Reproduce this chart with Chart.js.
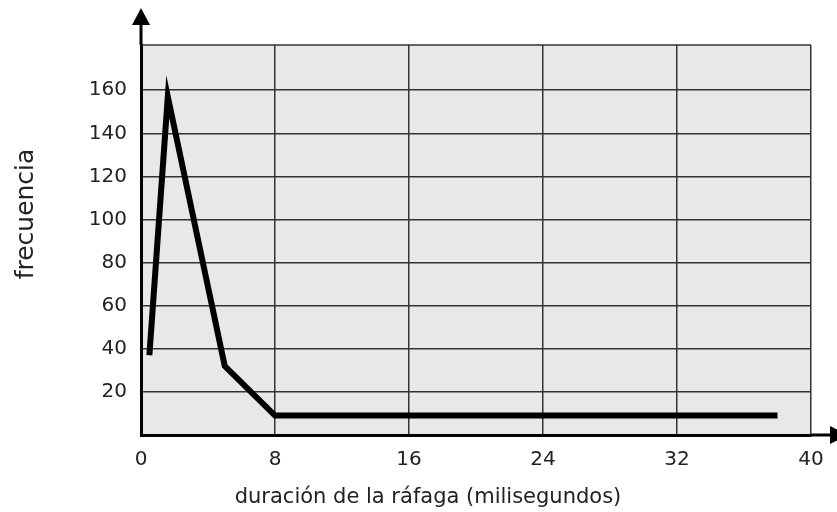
<!DOCTYPE html>
<html>
<head>
<meta charset="utf-8">
<script src="https://cdn.jsdelivr.net/npm/chart.js@4"></script>
<style>
  html, body { margin: 0; padding: 0; background: #fff; }
  #wrap { width: 837px; height: 512px; }
</style>
</head>
<body>
<div id="wrap"><canvas id="chart"></canvas></div>
<script>
const duracion = [0.5, 1.6, 5, 8, 38];
const frecuencia = [37, 157, 32, 9, 9];
const yTicks = [20, 40, 60, 80, 100, 120, 140, 160];
const xLabel = 'duración de la ráfaga (milisegundos)';
const yLabel = 'frecuencia';

const FONT = '"DejaVu Sans", sans-serif';
const INK = '#222';

// gray plot background, thin top border, arrows and axis titles
const decor = {
  id: 'decor',
  beforeDraw(chart) {
    const { ctx, chartArea: a } = chart;
    ctx.save();
    ctx.fillStyle = '#e8e8e8';
    ctx.fillRect(a.left, a.top, a.right - a.left, a.bottom - a.top);
    ctx.restore();
  },
  afterDraw(chart) {
    const { ctx, chartArea: a } = chart;
    ctx.save();
    ctx.strokeStyle = '#333';
    ctx.lineWidth = 1.5;
    ctx.beginPath();
    ctx.moveTo(a.left, a.top);
    ctx.lineTo(a.right, a.top);
    ctx.stroke();

    ctx.strokeStyle = '#000';
    ctx.fillStyle = '#000';
    ctx.lineWidth = 3;
    ctx.beginPath();
    ctx.moveTo(a.left, a.top);
    ctx.lineTo(a.left, 22);
    ctx.moveTo(a.right, a.bottom);
    ctx.lineTo(832, a.bottom);
    ctx.stroke();
    ctx.beginPath();
    ctx.moveTo(a.left, 8);
    ctx.lineTo(a.left - 9, 25);
    ctx.lineTo(a.left + 9, 25);
    ctx.closePath();
    ctx.fill();
    ctx.beginPath();
    ctx.moveTo(848, a.bottom);
    ctx.lineTo(830, a.bottom - 9);
    ctx.lineTo(830, a.bottom + 9);
    ctx.closePath();
    ctx.fill();

    ctx.fillStyle = INK;
    ctx.textAlign = 'center';
    ctx.font = '21px ' + FONT;
    ctx.textBaseline = 'alphabetic';
    ctx.fillText(xLabel, 428, 503);
    ctx.font = '25px ' + FONT;
    ctx.translate(33, 214);
    ctx.rotate(-Math.PI / 2);
    ctx.fillText(yLabel, 0, 0);
    ctx.restore();
  }
};

new Chart(document.getElementById('chart'), {
  type: 'line',
  data: {
    datasets: [{
      data: duracion.map((x, i) => ({ x: x, y: frecuencia[i] })),
      borderColor: '#000',
      borderWidth: 6,
      borderJoinStyle: 'miter',
      borderCapStyle: 'butt',
      pointRadius: 0,
      tension: 0,
      fill: false
    }]
  },
  options: {
    responsive: true,
    maintainAspectRatio: false,
    animation: false,
    layout: { padding: { top: 45, right: 26, left: 0, bottom: 0 } },
    plugins: { legend: { display: false }, tooltip: { enabled: false } },
    scales: {
      x: {
        type: 'linear',
        min: 0,
        max: 40,
        afterFit(scale) { scale.height = 77; },
        ticks: { stepSize: 8, color: INK, font: { family: FONT, size: 20 }, padding: 13, maxRotation: 0 },
        grid: { color: '#333', lineWidth: 1.5, drawTicks: false },
        border: { color: '#000', width: 3 }
      },
      y: {
        min: 0,
        max: 181,
        afterFit(scale) { scale.width = 141; },
        afterBuildTicks(scale) { scale.ticks = yTicks.map(v => ({ value: v })); },
        ticks: { color: INK, font: { family: FONT, size: 20 }, padding: 14 },
        grid: { color: '#333', lineWidth: 1.5, drawTicks: false },
        border: { color: '#000', width: 3 }
      }
    }
  },
  plugins: [decor]
});
</script>
</body>
</html>
